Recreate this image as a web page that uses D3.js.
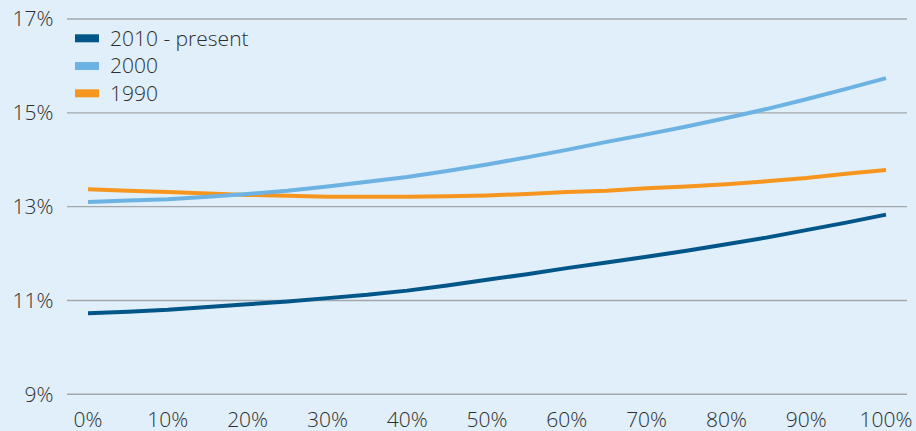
<!DOCTYPE html>
<html>
<head>
<meta charset="utf-8">
<script src="https://cdn.jsdelivr.net/npm/d3@7/dist/d3.min.js"></script>
<style>
  html, body { margin: 0; padding: 0; background: #e0eff9; }
  svg { display: block; }
  text { font-family: "Open Sans", "Noto Sans", sans-serif; fill: #2e2e2e; font-weight: 300; }
</style>
</head>
<body>
<svg id="chart" width="916" height="431"></svg>
<script>
// Share along the distribution (x, percent) and the three period curves (y, percent)
const shares = [0, 5, 10, 15, 20, 25, 30, 35, 40, 45, 50, 55, 60, 65, 70, 75, 80, 85, 90, 95, 100];
const present2010 = [10.73, 10.76, 10.80, 10.86, 10.92, 10.98, 11.05, 11.12, 11.21, 11.32, 11.44, 11.56, 11.69, 11.81, 11.93, 12.06, 12.20, 12.34, 12.50, 12.66, 12.83];
const year2000 = [13.10, 13.13, 13.16, 13.21, 13.27, 13.34, 13.43, 13.53, 13.63, 13.76, 13.90, 14.05, 14.21, 14.38, 14.54, 14.71, 14.89, 15.08, 15.29, 15.51, 15.74];
const year1990 = [13.37, 13.34, 13.31, 13.28, 13.25, 13.23, 13.21, 13.21, 13.21, 13.22, 13.24, 13.27, 13.31, 13.34, 13.39, 13.43, 13.48, 13.54, 13.61, 13.70, 13.78];

const seriesNames = ["2010 - present", "2000", "1990"];
const seriesColors = ["#005689", "#6cb3e3", "#f7961f"];
const seriesValues = [present2010, year2000, year1990];

const xTicks = [0, 10, 20, 30, 40, 50, 60, 70, 80, 90, 100];
const yTicks = [9, 11, 13, 15, 17];

const svg = d3.select("#chart");

const x = d3.scaleLinear().domain([0, 100]).range([88, 886]);
const y = d3.scaleLinear().domain([9, 17]).range([394.3, 19]);

// Horizontal gridlines with percent labels on the left
const gridLeft = 67, gridRight = 907;
const yAxis = svg.append("g");
yAxis.selectAll("line")
  .data(yTicks)
  .join("line")
  .attr("x1", gridLeft)
  .attr("x2", gridRight)
  .attr("y1", d => y(d))
  .attr("y2", d => y(d))
  .attr("stroke", "#a3a7ab")
  .attr("stroke-width", 1.4);
yAxis.selectAll("text")
  .data(yTicks)
  .join("text")
  .attr("x", 53.5)
  .attr("y", d => y(d))
  .attr("dy", "0.35em")
  .attr("text-anchor", "end")
  .attr("font-size", 21)
  .text(d => d + "%");

// Bottom axis labels
const xAxis = svg.append("g");
xAxis.selectAll("text")
  .data(xTicks)
  .join("text")
  .attr("x", d => x(d))
  .attr("y", 426.5)
  .attr("text-anchor", "middle")
  .attr("font-size", 21)
  .text(d => d + "%");

// Curves
const line = d3.line()
  .x((d, i) => x(shares[i]))
  .y(d => y(d));

svg.append("g")
  .selectAll("path")
  .data(seriesValues.map((v, i) => ({ v, c: seriesColors[i] })).reverse())
  .join("path")
  .attr("d", d => line(d.v))
  .attr("fill", "none")
  .attr("stroke", d => d.c)
  .attr("stroke-width", 4);

// Legend
const legend = svg.append("g");
const rowY = [38.3, 66, 93.3];
seriesNames.forEach((name, i) => {
  legend.append("rect")
    .attr("x", 75)
    .attr("y", rowY[i] - 4)
    .attr("width", 24)
    .attr("height", 8)
    .attr("fill", seriesColors[i]);
  legend.append("text")
    .attr("x", 110)
    .attr("y", rowY[i])
    .attr("dy", "0.35em")
    .attr("font-size", 21)
    .text(name);
});
</script>
</body>
</html>
